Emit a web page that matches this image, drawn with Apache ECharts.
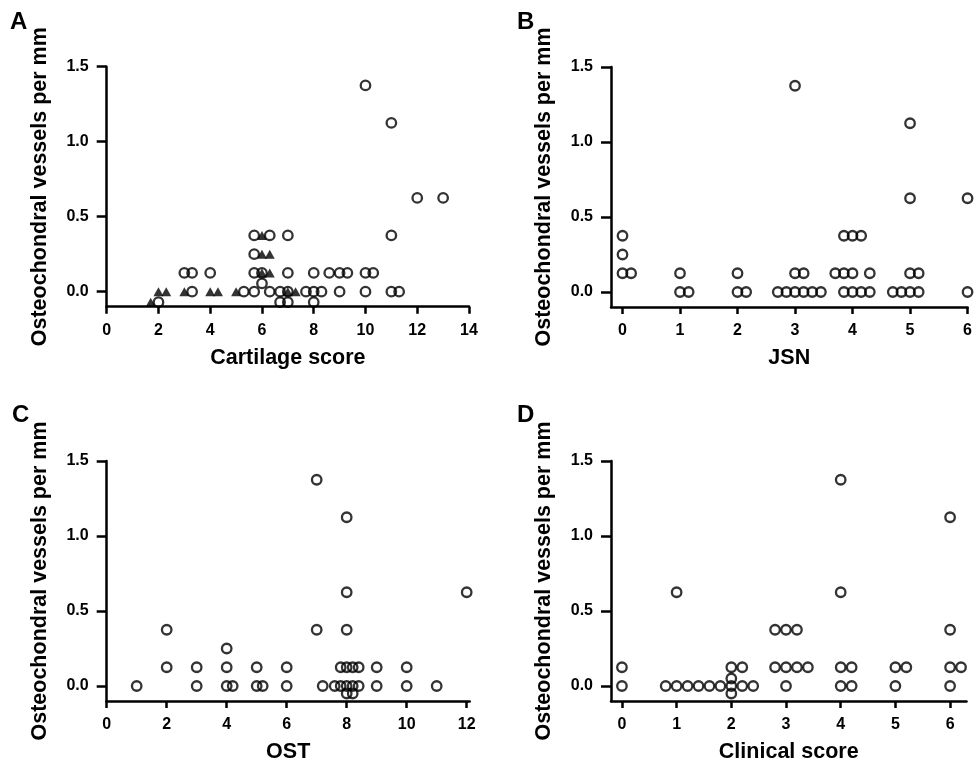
<!DOCTYPE html>
<html>
<head>
<meta charset="utf-8">
<script src="https://cdn.jsdelivr.net/npm/echarts@6/dist/echarts.min.js"></script>
<style>
  html, body { margin: 0; padding: 0; background: #fff; }
  #chart { width: 975px; height: 772px; }
</style>
</head>
<body>
<div id="chart"></div>
<script>
// values: [x (jittered score), vessels per mm]
const cartilageCircles = [
  [10, 1.375], [11, 1.125], [12, 0.625], [13, 0.625],
  [5.7, 0.375], [6.3, 0.375], [7, 0.375], [11, 0.375],
  [5.7, 0.25],
  [3, 0.125], [3.3, 0.125], [4, 0.125], [5.7, 0.125], [6, 0.125], [7, 0.125], [8, 0.125],
  [8.6, 0.125], [9, 0.125], [9.3, 0.125], [10, 0.125], [10.3, 0.125],
  [6, 0.055],
  [3.3, 0], [5.3, 0], [5.7, 0], [6.3, 0], [6.7, 0], [7, 0], [7.7, 0], [8, 0], [8.3, 0],
  [9, 0], [10, 0], [11, 0], [11.3, 0],
  [2, -0.07], [6.7, -0.07], [7, -0.07], [8, -0.07]
]
const cartilageTriangles = [
  [6, 0.375], [6, 0.25], [6.3, 0.25], [6, 0.125], [6.3, 0.125],
  [2, 0], [2.3, 0], [3, 0], [4, 0], [4.3, 0], [5, 0], [7, 0], [7.3, 0],
  [1.7, -0.07]
]
const jsnCircles = [
  [0, 0.375], [0, 0.25], [0, 0.125], [0.15, 0.125],
  [1, 0.125], [1, 0], [1.15, 0],
  [2, 0.125], [2, 0], [2.15, 0],
  [3, 1.375], [3, 0.125], [3.15, 0.125],
  [2.7, 0], [2.85, 0], [3, 0], [3.15, 0], [3.3, 0], [3.45, 0],
  [3.85, 0.375], [4, 0.375], [4.15, 0.375],
  [3.7, 0.125], [3.85, 0.125], [4, 0.125], [4.3, 0.125],
  [3.85, 0], [4, 0], [4.15, 0], [4.3, 0],
  [5, 1.125], [5, 0.625], [5, 0.125], [5.15, 0.125],
  [4.7, 0], [4.85, 0], [5, 0], [5.15, 0],
  [6, 0.625], [6, 0]
]
const ostCircles = [
  [1, 0], [2, 0.375], [2, 0.125], [3, 0.125], [3, 0],
  [4, 0.25], [4, 0.125], [4, 0], [4.2, 0],
  [5, 0.125], [5, 0], [5.2, 0], [6, 0.125], [6, 0],
  [7, 1.375], [7, 0.375], [7.2, 0], [7.6, 0],
  [8, 1.125], [8, 0.625], [8, 0.375],
  [7.8, 0.125], [8, 0.125], [8.2, 0.125], [8.4, 0.125],
  [7.8, 0], [8, 0], [8.2, 0], [8.4, 0], [8, -0.05], [8.2, -0.05],
  [9, 0.125], [9, 0], [10, 0.125], [10, 0], [11, 0], [12, 0.625]
]
const clinicalCircles = [
  [0, 0.125], [0, 0],
  [1, 0.625], [0.8, 0], [1, 0], [1.2, 0], [1.4, 0], [1.6, 0], [1.8, 0],
  [2, 0.125], [2.2, 0.125], [2, 0.05], [2, 0], [2.2, 0], [2.4, 0], [2, -0.05],
  [2.8, 0.375], [3, 0.375], [3.2, 0.375],
  [2.8, 0.125], [3, 0.125], [3.2, 0.125], [3.4, 0.125], [3, 0],
  [4, 1.375], [4, 0.625], [4, 0.125], [4.2, 0.125], [4, 0], [4.2, 0],
  [5, 0.125], [5.2, 0.125], [5, 0],
  [6, 1.125], [6, 0.375], [6, 0.125], [6.2, 0.125], [6, 0]
]

const yTicks = [0, 0.5, 1, 1.5]
const cartilageTicks = [0, 2, 4, 6, 8, 10, 12, 14]
const jsnTicks = [0, 1, 2, 3, 4, 5, 6]
const ostTicks = [0, 2, 4, 6, 8, 10, 12]
const clinicalTicks = [0, 1, 2, 3, 4, 5, 6]

const panelLetters = ['A', 'B', 'C', 'D']
const xNames = ['Cartilage score', 'JSN', 'OST', 'Clinical score']
const yName = 'Osteochondral vessels per mm'

const font = '"Liberation Sans", Arial, sans-serif'

const grids = [
  { left: 106.7, top: 66.7, width: 362.3, height: 240 },
  { left: 611, top: 67, width: 361.5, height: 240 },
  { left: 106.7, top: 461, width: 363, height: 240 },
  { left: 611, top: 461, width: 355.5, height: 240 }
]
const xRanges = [[0, 14], [-0.2, 6], [0, 12.1], [-0.2, 6.3]]
const xTickSets = [cartilageTicks, jsnTicks, ostTicks, clinicalTicks]
const letterPos = [[10, 10], [517, 10], [12, 403], [517, 403]]

const axisLine = { onZero: false, lineStyle: { color: '#000', width: 2.5 } }

function xAxis(i) {
  return {
    type: 'value', gridIndex: i,
    min: xRanges[i][0], max: xRanges[i][1],
    name: xNames[i], nameLocation: 'middle', nameGap: 40,
    nameTextStyle: { fontFamily: font, fontWeight: 'bold', fontSize: 21.5, color: '#000' },
    axisLine: axisLine,
    axisTick: { show: true, length: 7, customValues: xTickSets[i], lineStyle: { color: '#000', width: 2.5 } },
    axisLabel: { customValues: xTickSets[i], margin: 16, fontFamily: font, fontWeight: 'bold', fontSize: 16, color: '#000' },
    splitLine: { show: false }
  }
}

function yAxis(i) {
  return {
    type: 'value', gridIndex: i,
    min: -0.1, max: 1.5,
    name: yName, nameLocation: 'middle', nameGap: 56,
    nameTextStyle: { fontFamily: font, fontWeight: 'bold', fontSize: 21.5, color: '#000' },
    axisLine: axisLine,
    axisTick: { show: true, length: 10, customValues: yTicks, lineStyle: { color: '#000', width: 2.5 } },
    axisLabel: {
      customValues: yTicks, margin: 18, fontFamily: font, fontWeight: 'bold', fontSize: 16, color: '#000',
      formatter: v => v.toFixed(1)
    },
    splitLine: { show: false }
  }
}

function circles(i, data) {
  return {
    type: 'scatter', xAxisIndex: i, yAxisIndex: i, data: data,
    symbol: 'circle', symbolSize: 9.5, z: 2,
    itemStyle: { color: 'rgba(255,255,255,0)', borderColor: '#000', borderWidth: 2.3 }
  }
}

const chart = echarts.init(document.getElementById('chart'))
chart.setOption({
  backgroundColor: '#fff',
  animation: false,
  title: panelLetters.map((t, i) => ({
    text: t, left: letterPos[i][0], top: letterPos[i][1], padding: 0,
    textStyle: { fontFamily: font, fontWeight: 'bold', fontSize: 24, color: '#000' }
  })),
  grid: grids,
  xAxis: [0, 1, 2, 3].map(xAxis),
  yAxis: [0, 1, 2, 3].map(yAxis),
  series: [
    circles(0, cartilageCircles),
    {
      type: 'scatter', xAxisIndex: 0, yAxisIndex: 0, data: cartilageTriangles,
      symbol: 'triangle', symbolSize: [10, 9], z: 3,
      itemStyle: { color: '#000' }
    },
    circles(1, jsnCircles),
    circles(2, ostCircles),
    circles(3, clinicalCircles)
  ]
})
</script>
</body>
</html>
